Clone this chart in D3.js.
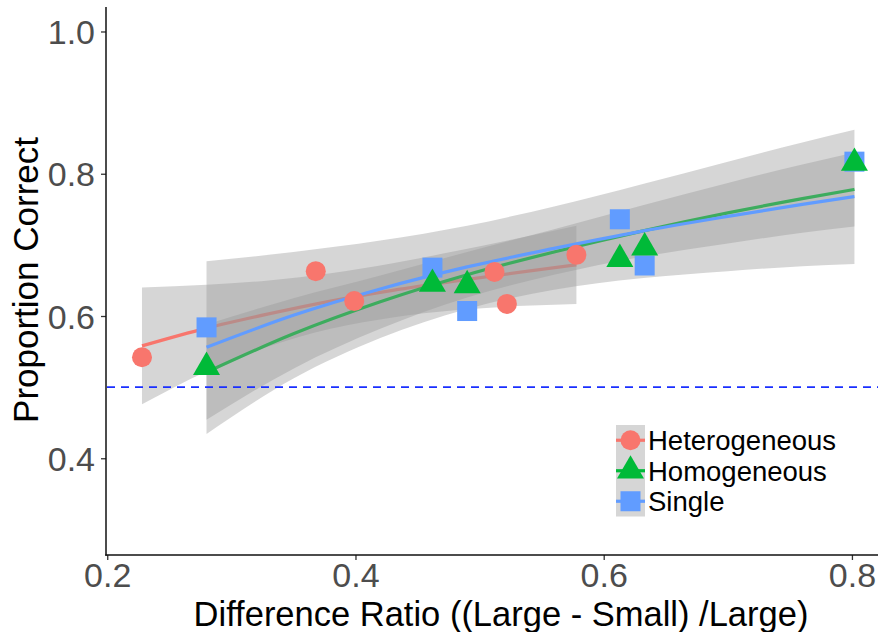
<!DOCTYPE html>
<html>
<head>
<meta charset="utf-8">
<script src="https://cdn.jsdelivr.net/npm/d3@7"></script>
<style>
  html, body { margin: 0; padding: 0; background: #fff; }
  svg { display: block; }
  text { font-family: "Liberation Sans", Arial, Helvetica, sans-serif; }
</style>
</head>
<body>
<svg id="chart" width="880" height="632"></svg>
<script>
// ---------------- Data ----------------
const xTicks = [0.2, 0.4, 0.6, 0.8];
const yTicks = [0.4, 0.6, 0.8, 1.0];
const chanceLevel = 0.5;

const seriesNames = ["Heterogeneous", "Homogeneous", "Single"];
const seriesColors = ["#F8766D", "#00BA38", "#619CFF"];

// observed points
const hetX = [0.228, 0.368, 0.399, 0.512, 0.522, 0.578];
const hetY = [0.542, 0.663, 0.621, 0.662, 0.617, 0.686];
const homX = [0.280, 0.462, 0.490, 0.613, 0.633, 0.802];
const homY = [0.528, 0.645, 0.643, 0.680, 0.696, 0.815];
const sinX = [0.280, 0.462, 0.490, 0.613, 0.633, 0.802];
const sinY = [0.584, 0.668, 0.607, 0.736, 0.671, 0.817];

// fitted curves and confidence bands
const hetFitX = [0.228, 0.28, 0.33, 0.38, 0.43, 0.48, 0.53, 0.578];
const hetFit  = [0.558, 0.583, 0.603, 0.621, 0.636, 0.649, 0.661, 0.672];
const hetLo   = [0.476, 0.522, 0.557, 0.582, 0.598, 0.608, 0.614, 0.617];
const hetHi   = [0.640, 0.644, 0.650, 0.660, 0.674, 0.691, 0.709, 0.727];

const fitX2  = [0.28, 0.35, 0.42, 0.49, 0.56, 0.63, 0.70, 0.76, 0.802];
const homFit = [0.521, 0.575, 0.620, 0.658, 0.690, 0.719, 0.745, 0.765, 0.778];
const homLo  = [0.454, 0.526, 0.582, 0.626, 0.658, 0.683, 0.702, 0.717, 0.726];
const homHi  = [0.588, 0.625, 0.657, 0.690, 0.722, 0.755, 0.787, 0.813, 0.830];
const sinFit = [0.556, 0.601, 0.638, 0.669, 0.695, 0.719, 0.740, 0.757, 0.768];
const sinLo  = [0.434, 0.512, 0.569, 0.610, 0.637, 0.653, 0.663, 0.670, 0.673];
const sinHi  = [0.677, 0.690, 0.706, 0.727, 0.754, 0.785, 0.817, 0.844, 0.862];

// ---------------- Build ----------------
const svg = d3.select("#chart");
const x = d3.scaleLinear().domain([0.199, 0.821]).range([106, 878]);
const y = d3.scaleLinear().domain([0.264, 1.034]).range([555, 7.3]);

const smooths = [
  { xs: hetFitX, fit: hetFit, lo: hetLo, hi: hetHi, color: seriesColors[0] },
  { xs: fitX2, fit: homFit, lo: homLo, hi: homHi, color: seriesColors[1] },
  { xs: fitX2, fit: sinFit, lo: sinLo, hi: sinHi, color: seriesColors[2] }
];

const area = d3.area().curve(d3.curveMonotoneX)
  .x(d => x(d.x)).y0(d => y(d.lo)).y1(d => y(d.hi));
const line = d3.line().curve(d3.curveMonotoneX)
  .x(d => x(d.x)).y(d => y(d.v));

const gSmooth = svg.append("g");
smooths.forEach(s => {
  const rows = s.xs.map((xv, i) => ({ x: xv, v: s.fit[i], lo: s.lo[i], hi: s.hi[i] }));
  gSmooth.append("path").attr("d", area(rows))
    .attr("fill", "#999999").attr("fill-opacity", 0.4);
  gSmooth.append("path").attr("d", line(rows))
    .attr("fill", "none").attr("stroke", s.color).attr("stroke-width", 3.2);
});

// chance line
svg.append("line")
  .attr("x1", x.range()[0] + 1).attr("x2", x.range()[1])
  .attr("y1", y(chanceLevel)).attr("y2", y(chanceLevel))
  .attr("stroke", "#1a2fff").attr("stroke-width", 1.8)
  .attr("stroke-dasharray", "8,6");

// points
const gPts = svg.append("g");
gPts.selectAll("rect.sq").data(sinX.map((v, i) => [v, sinY[i]])).join("rect")
  .attr("x", d => x(d[0]) - 10).attr("y", d => y(d[1]) - 10)
  .attr("width", 20).attr("height", 20).attr("fill", seriesColors[2]);
const tri = d3.symbol().type(d3.symbolTriangle).size(316);
gPts.selectAll("path.tri").data(homX.map((v, i) => [v, homY[i]])).join("path")
  .attr("d", tri).attr("transform", d => `translate(${x(d[0])},${y(d[1])})`)
  .attr("fill", seriesColors[1]);
gPts.selectAll("circle").data(hetX.map((v, i) => [v, hetY[i]])).join("circle")
  .attr("cx", d => x(d[0])).attr("cy", d => y(d[1])).attr("r", 10)
  .attr("fill", seriesColors[0]);

// axes
const xAxis = d3.axisBottom(x).tickValues(xTicks).tickFormat(d3.format(".1f")).tickSize(5).tickPadding(6);
const yAxis = d3.axisLeft(y).tickValues(yTicks).tickFormat(d3.format(".1f")).tickSize(5).tickPadding(6);

const gx = svg.append("g").attr("transform", "translate(0,555)").call(xAxis);
const gy = svg.append("g").attr("transform", "translate(106,0)").call(yAxis);
[gx, gy].forEach(g => {
  g.select(".domain").remove();
  g.selectAll(".tick line").attr("stroke", "#333").attr("stroke-width", 1.3);
  g.selectAll(".tick text").attr("fill", "#4d4d4d").style("font-size", "34px")
    .style("font-family", "'Liberation Sans', Arial, sans-serif");
});
gx.selectAll(".tick text").attr("dy", null).attr("y", 32);
gy.selectAll(".tick text").attr("x", -11).attr("dy", "0.36em");

svg.append("line").attr("x1", 106).attr("x2", 106).attr("y1", 7).attr("y2", 555.7)
  .attr("stroke", "#111").attr("stroke-width", 1.5);
svg.append("line").attr("x1", 105.3).attr("x2", 878).attr("y1", 555).attr("y2", 555)
  .attr("stroke", "#111").attr("stroke-width", 1.5);

// titles
svg.append("text").attr("x", 501).attr("y", 625.5).attr("text-anchor", "middle")
  .style("font-size", "34.5px").attr("fill", "#000")
  .text("Difference Ratio ((Large - Small) /Large)");
svg.append("text").attr("transform", "translate(38,280) rotate(-90)")
  .attr("text-anchor", "middle").style("font-size", "35px").attr("fill", "#000")
  .text("Proportion Correct");

// legend
const leg = svg.append("g").attr("transform", "translate(616,425)");
const keyH = 30.5, keyW = 29;
leg.append("rect").attr("x", 0).attr("y", 0).attr("width", keyW).attr("height", keyH * 3)
  .attr("fill", "#d6d6d6");
seriesNames.forEach((name, i) => {
  const cy = keyH * i + keyH / 2;
  leg.append("line").attr("x1", 0).attr("x2", keyW).attr("y1", cy).attr("y2", cy)
    .attr("stroke", seriesColors[i]).attr("stroke-width", 3.2);
  if (i === 0) leg.append("circle").attr("cx", keyW / 2).attr("cy", cy).attr("r", 10).attr("fill", seriesColors[0]);
  if (i === 1) leg.append("path").attr("d", tri).attr("transform", `translate(${keyW / 2},${cy})`).attr("fill", seriesColors[1]);
  if (i === 2) leg.append("rect").attr("x", keyW / 2 - 10).attr("y", cy - 10).attr("width", 20).attr("height", 20).attr("fill", seriesColors[2]);
  leg.append("text").attr("x", keyW + 3).attr("y", cy).attr("dy", "0.36em")
    .style("font-size", "27.5px").attr("fill", "#000").text(name);
});
</script>
</body>
</html>
